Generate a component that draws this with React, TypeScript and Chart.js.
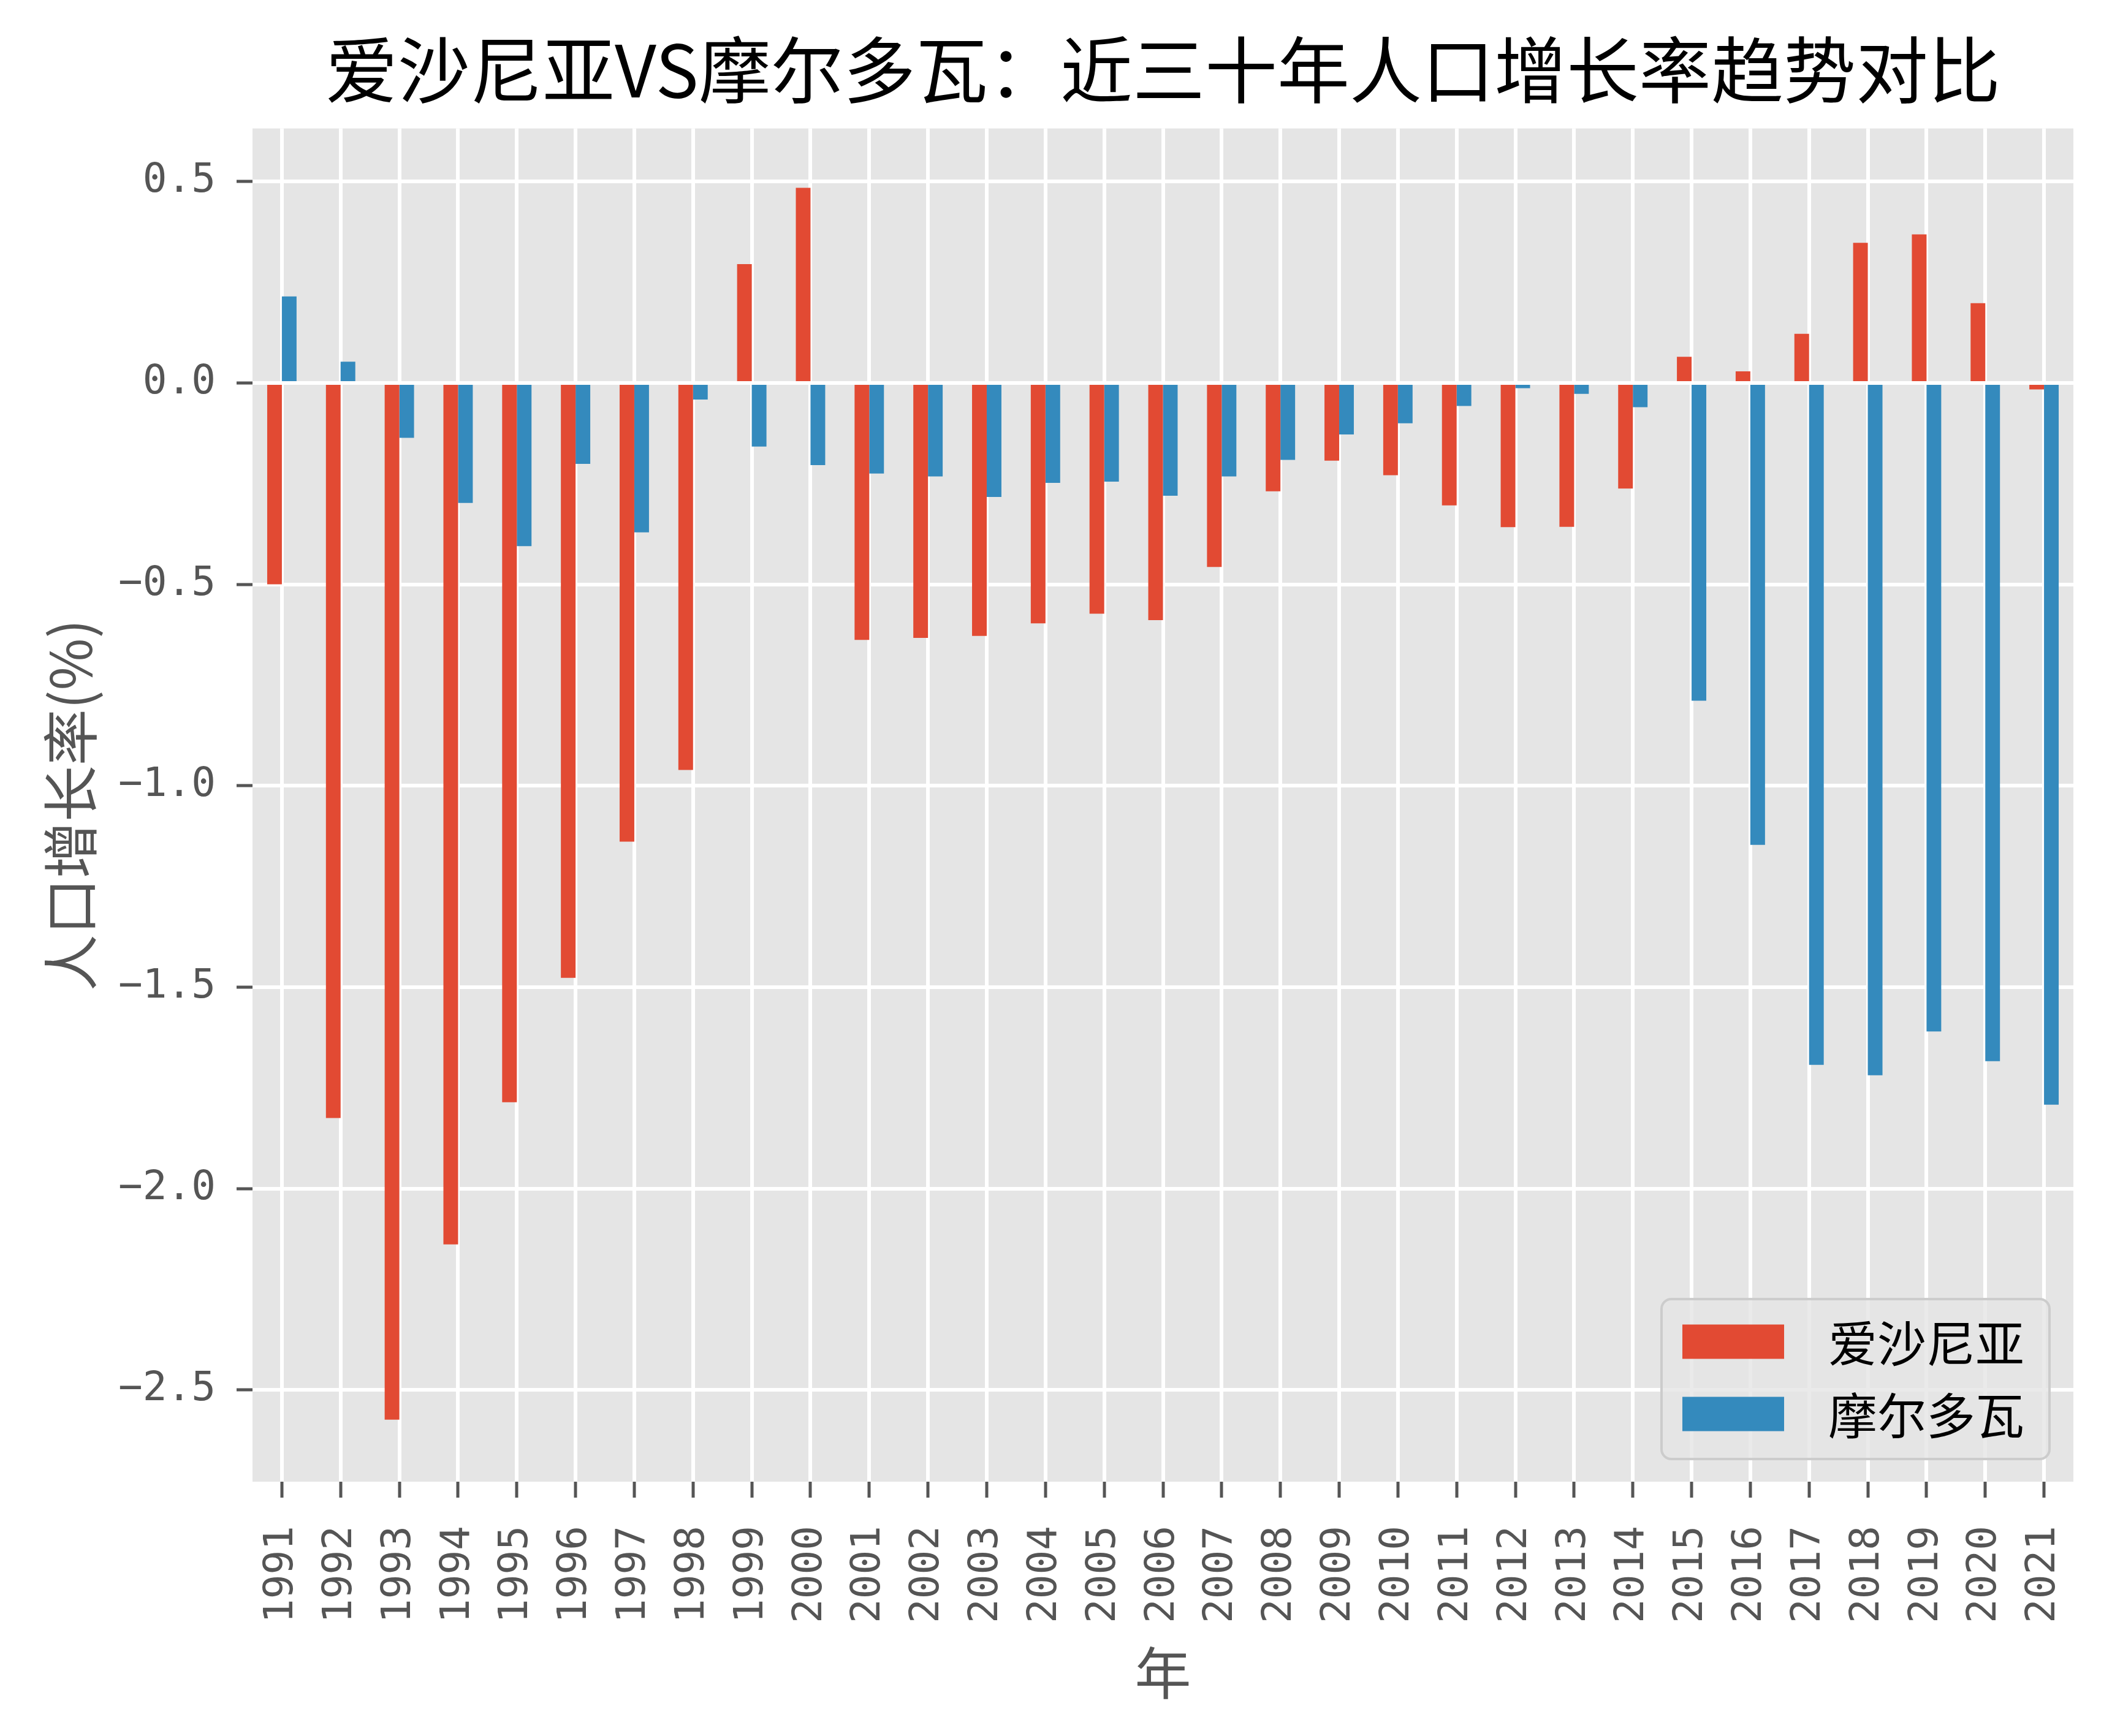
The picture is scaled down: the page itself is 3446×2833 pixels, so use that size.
import React, { useEffect, useRef } from 'react';
import { Chart, registerables } from 'chart.js';

Chart.register(...registerables);

const years = [
  '1991', '1992', '1993', '1994', '1995', '1996', '1997', '1998', '1999', '2000',
  '2001', '2002', '2003', '2004', '2005', '2006', '2007', '2008', '2009', '2010',
  '2011', '2012', '2013', '2014', '2015', '2016', '2017', '2018', '2019', '2020', '2021',
];

const estoniaGrowth = [
  -0.5, -1.825, -2.574, -2.139, -1.786, -1.477, -1.139, -0.961, 0.295, 0.4845,
  -0.638, -0.633, -0.628, -0.597, -0.573, -0.589, -0.457, -0.269, -0.193, -0.229,
  -0.304, -0.358, -0.357, -0.262, 0.065, 0.029, 0.122, 0.348, 0.369, 0.198, -0.016,
];

const moldovaGrowth = [
  0.215, 0.053, -0.136, -0.298, -0.405, -0.201, -0.371, -0.041, -0.158, -0.204,
  -0.225, -0.232, -0.283, -0.248, -0.245, -0.28, -0.232, -0.191, -0.128, -0.1,
  -0.057, -0.013, -0.027, -0.06, -0.789, -1.147, -1.693, -1.719, -1.61, -1.684, -1.792,
];

const seriesNames = ['爱沙尼亚', '摩尔多瓦'];
const seriesColors = ['#E24A33', '#348ABD'];
const yTickValues = [-2.5, -2.0, -1.5, -1.0, -0.5, 0.0, 0.5];
const yMin = -2.728;
const yMax = 0.632;
const titleText = '爱沙尼亚VS摩尔多瓦：近三十年人口增长率趋势对比';
const xTitleText = '年';
const yTitleText = '人口增长率(%)';

const W = 3446;
const H = 2833;
const AREA = { left: 412, right: 3383, top: 210, bottom: 2418 };

const CJK = "'Noto Sans CJK SC', 'Noto Sans', sans-serif";
const MONO = "'DejaVu Sans Mono', 'Liberation Mono', monospace";

const plotBgPlugin = {
  id: 'plotBg',
  beforeDraw(chart: any) {
    const { ctx, chartArea } = chart;
    ctx.save();
    ctx.fillStyle = '#E5E5E5';
    ctx.fillRect(chartArea.left, chartArea.top, chartArea.right - chartArea.left, chartArea.bottom - chartArea.top);
    ctx.restore();
  },
};

const insideLegendPlugin = {
  id: 'insideLegend',
  afterDraw(chart: any) {
    const { ctx, chartArea } = chart;
    const boxW = 633;
    const boxH = 261;
    const x0 = chartArea.right - 39 - boxW;
    const y0 = chartArea.bottom - 37 - boxH;
    ctx.save();
    ctx.beginPath();
    if (ctx.roundRect) ctx.roundRect(x0, y0, boxW, boxH, 16);
    else ctx.rect(x0, y0, boxW, boxH);
    ctx.fillStyle = 'rgba(229,229,229,0.8)';
    ctx.fill();
    ctx.lineWidth = 4;
    ctx.strokeStyle = '#CCCCCC';
    ctx.stroke();
    chart.data.datasets.forEach((ds: any, i: number) => {
      const rowY = y0 + 69.5 + i * 118;
      ctx.fillStyle = ds.backgroundColor;
      ctx.fillRect(x0 + 34, rowY - 28, 166, 56);
      ctx.fillStyle = '#000000';
      ctx.font = `80px ${CJK}`;
      ctx.textBaseline = 'middle';
      ctx.textAlign = 'left';
      ctx.fillText(ds.label, x0 + 272, rowY + 2);
    });
    ctx.restore();
  },
};

export default function App() {
  const canvasRef = useRef<HTMLCanvasElement | null>(null);

  useEffect(() => {
    const canvas = canvasRef.current;
    if (!canvas) return;
    const chart = new Chart(canvas, {
      type: 'bar',
      data: {
        labels: years,
        datasets: [
          {
            label: seriesNames[0],
            data: estoniaGrowth,
            backgroundColor: seriesColors[0],
            borderWidth: 0,
            categoryPercentage: 0.5,
            barPercentage: 1.0,
          },
          {
            label: seriesNames[1],
            data: moldovaGrowth,
            backgroundColor: seriesColors[1],
            borderWidth: 0,
            categoryPercentage: 0.5,
            barPercentage: 1.0,
          },
        ],
      },
      options: {
        responsive: false,
        animation: false,
        devicePixelRatio: 1,
        layout: { padding: { left: 0, right: W - AREA.right, top: 0, bottom: 0 } },
        plugins: {
          legend: { display: false },
          tooltip: { enabled: false },
          title: {
            display: true,
            text: titleText,
            fullSize: false,
            color: '#000000',
            font: { family: CJK, size: 118, weight: 'normal', lineHeight: 1.2 },
            padding: { top: 43, bottom: 25 },
          },
        },
        scales: {
          x: {
            type: 'category',
            offset: true,
            grid: {
              offset: false,
              color: '#FFFFFF',
              lineWidth: 6,
              drawTicks: true,
              tickLength: 26,
              tickColor: '#555555',
              tickWidth: 5,
            },
            border: { display: false },
            ticks: {
              autoSkip: false,
              maxRotation: 90,
              minRotation: 90,
              color: '#555555',
              padding: 46,
              font: { family: MONO, size: 66 },
            },
            title: {
              display: true,
              text: xTitleText,
              color: '#555555',
              font: { family: CJK, size: 92, lineHeight: 1.2 },
              padding: { top: 0, bottom: 48 },
            },
            afterFit: (s: any) => {
              s.height = H - AREA.bottom;
              s.paddingLeft = 0;
              s.paddingRight = 0;
            },
          },
          y: {
            type: 'linear',
            min: yMin,
            max: yMax,
            afterBuildTicks: (s: any) => {
              s.ticks = yTickValues.map((v) => ({ value: v }));
            },
            grid: {
              color: '#FFFFFF',
              lineWidth: 6,
              drawTicks: true,
              tickLength: 26,
              tickColor: '#555555',
              tickWidth: 5,
            },
            border: { display: false },
            ticks: {
              color: '#555555',
              padding: 34,
              font: { family: MONO, size: 66 },
              callback: (v: any) => Number(v).toFixed(1).replace('-', '\u2212'),
            },
            title: {
              display: true,
              text: yTitleText,
              color: '#555555',
              font: { family: CJK, size: 92, lineHeight: 1.2 },
              padding: { top: 60, bottom: 0 },
            },
            afterFit: (s: any) => {
              s.width = AREA.left;
              s.paddingTop = 0;
              s.paddingBottom = 0;
            },
          },
        },
      } as any,
      plugins: [plotBgPlugin, insideLegendPlugin],
    });
    return () => {
      chart.destroy();
    };
  }, []);

  return (
    <div style={{ position: 'absolute', left: 0, top: 0, width: W, height: H, background: '#FFFFFF' }}>
      <canvas ref={canvasRef} width={W} height={H} style={{ width: W, height: H, display: 'block' }} />
    </div>
  );
}
